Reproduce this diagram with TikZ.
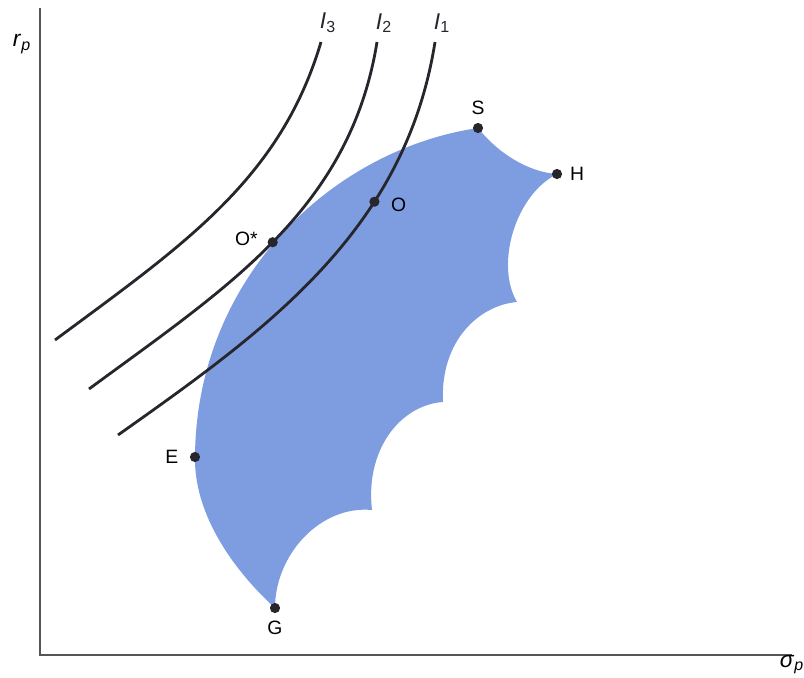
\documentclass[tikz,border=0pt]{standalone}
\usepackage{fontspec}
\setmainfont{Liberation Sans}
\usetikzlibrary{positioning}

\definecolor{setblue}{RGB}{126,156,224}
\definecolor{inkdark}{RGB}{38,38,44}
\definecolor{axisgray}{RGB}{85,85,85}

\begin{document}
\begin{tikzpicture}[x=0.02cm, y=-0.02cm, font=\fontsize{11}{13}\selectfont,
    curve/.style={inkdark, line width=1.6pt},
    axisline/.style={axisgray, line width=1.1pt},
    dot/.style={fill=inkdark},
    curvelabel/.style={font=\fontsize{13}{15}\selectfont, above=1pt, xshift=4pt}]
    \useasboundingbox (0,0) rectangle (804,677);

    % axes
    \draw[axisline] (40,8) -- (40,655) -- (792,655);
    \node[font=\fontsize{13}{15}\selectfont] at (22,44) {\textit{r}\textsubscript{\textit{p}}};
    \node[font=\fontsize{13}{15}\selectfont] at (792,665) {\textit{σ}\textsubscript{\textit{p}}};

    % corner points of the feasible set
    \coordinate (G)  at (275,608);
    \coordinate (E)  at (195,457);
    \coordinate (S)  at (478,128);
    \coordinate (H)  at (557,174);
    \coordinate (C1) at (517,302);
    \coordinate (C2) at (443,402);
    \coordinate (C3) at (372,510);

    % feasible set: big left arc, scalloped right side
    \fill[setblue] (G) .. controls (228,565) and (194,510) .. (E)
        .. controls (196,280) and (330,150) .. (S)
        .. controls (497,152) and (527,172) .. (H)
        .. controls (515,195) and (495,265) .. (C1)
        .. controls (480,305) and (440,340) .. (C2)
        .. controls (400,405) and (365,450) .. (C3)
        .. controls (320,505) and (275,555) .. (G) -- cycle;

    % indifference curves (O* and O picked off them)
    \draw[curve] (55,340) .. controls (183,245) and (280,180) .. (321,42)
        node[pos=1, curvelabel] {\textit{I}\textsubscript{3}};
    \draw[curve] (89,389) .. controls (226,288) and (350,210) .. (377,42)
        coordinate[pos=0.495] (Os)
        node[pos=1, curvelabel] {\textit{I}\textsubscript{2}};
    \draw[curve] (118,435) .. controls (265,331) and (405,232) .. (435,42)
        coordinate[pos=0.675] (O)
        node[pos=1, curvelabel] {\textit{I}\textsubscript{1}};

    % marked portfolios
    \foreach \p in {G,E,S,H,O,Os}
        \fill[dot] (\p) circle (2.9pt);
    \node[above=4pt of S] {S};
    \node[right=4pt of H] {H};
    \node[right=6pt of O, yshift=-2pt] {O};
    \node[left=5pt of Os, yshift=2pt] {O*};
    \node[left=6pt of E] {E};
    \node[below=4pt of G] {G};
\end{tikzpicture}
\end{document}
